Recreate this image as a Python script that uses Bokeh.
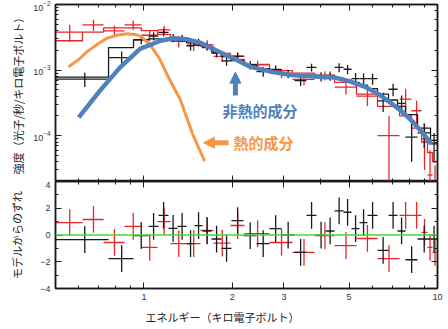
from bokeh.plotting import figure
from bokeh.layouts import column
from bokeh.models import (Range1d, FixedTicker, LogAxis, LinearAxis, Arrow, NormalHead,
                          Label, SingleIntervalTicker, Span, LogTicker, ColumnDataSource, Title)
from bokeh.embed import file_html
from bokeh.resources import INLINE

# ---------------- data ----------------
black_edges = [0.50, 0.758, 0.922, 1.037, 1.121, 1.213, 1.302, 1.397, 1.487, 1.584, 1.699,
               1.838, 1.987, 2.184, 2.419, 2.679, 2.942, 3.258, 3.579, 3.871, 4.156, 4.460,
               4.786, 5.095, 5.425, 5.776, 6.247, 6.810, 7.308, 7.782, 8.551, 9.468, 10.0]
black_model = [7.8e-4, 2.2e-3, 2.9e-3, 3.0e-3, 3.0e-3, 2.9e-3, 2.8e-3, 2.6e-3, 2.4e-3, 2.2e-3,
               1.9e-3, 1.6e-3, 1.4e-3, 1.2e-3, 1.05e-3, 9.5e-4, 8.8e-4, 8.5e-4, 8.3e-4, 8.0e-4,
               7.8e-4, 7.5e-4, 7.0e-4, 6.5e-4, 5.9e-4, 5.2e-4, 4.3e-4, 3.5e-4, 2.8e-4, 2.1e-4,
               1.3e-4, 8.5e-5]
black_data = [7.3e-4, 1.55e-3, 2.88e-3, 3.3e-3, 3.75e-3, 3.1e-3, 3.05e-3, 2.35e-3, 2.65e-3, 2.3e-3,
              1.82e-3, 1.38e-3, 1.63e-3, 1.2e-3, 9.5e-4, 1.02e-3, 8.8e-4, 6.9e-4, 1.1e-3, 8.0e-4,
              8.2e-4, 1.1e-3, 1.03e-3, 7.4e-4, 7.4e-4, 7.4e-4, 3.4e-4, 5.1e-4, 3.1e-4, 9.5e-5,
              1.1e-4, 7.5e-5]
black_err = [1.8e-4, 3.7e-4, 4e-4, 4.7e-4, 5e-4, 4.4e-4, 4e-4, 3.8e-4, 3.6e-4, 3.2e-4,
             2.7e-4, 2.2e-4, 2.1e-4, 1.8e-4, 1.6e-4, 1.5e-4, 1.3e-4, 1.2e-4, 1.5e-4, 1.3e-4,
             1.3e-4, 1.7e-4, 1.65e-4, 1.6e-4, 1.5e-4, 1.4e-4, 1.1e-4, 1.1e-4, 1.0e-4, 5.5e-5,
             4.5e-5, 3.5e-5]
black_resid = [-0.35, -1.76, -0.05, 0.64, 1.46, 0.5, 0.64, -0.64, 0.7, 0.3,
               -0.3, -1.0, 1.08, -0.04, -0.64, 0.48, 0.0, -1.3, 1.46, 0.0,
               0.3, 1.8, 1.7, 0.48, 0.93, 1.46, -1.15, 1.46, 0.3, -1.85,
               -0.3, -0.3]

red_edges = [0.50, 0.618, 0.729, 0.859, 0.981, 1.113, 1.232, 1.397, 1.559, 1.726, 1.972, 2.201,
             2.679, 3.208, 3.812, 4.460, 5.298, 6.247, 7.424, 8.155, 8.822, 9.247, 9.616, 10.0]
red_model = [2.8e-3, 3.8e-3, 4.4e-3, 4.4e-3, 4.0e-3, 3.5e-3, 3.1e-3, 2.7e-3, 2.3e-3, 1.8e-3,
             1.45e-3, 1.2e-3, 9.8e-4, 9.0e-4, 8.4e-4, 6.5e-4, 4.3e-4, 2.8e-4, 2.0e-4, 1.3e-4,
             8e-5, 5.5e-5, 4e-5]
red_data = [3.8e-3, 4.9e-3, 3.95e-3, 4.9e-3, 3.4e-3, 4.1e-3, 2.75e-3, 2.4e-3, 2.45e-3, 1.62e-3,
            1.62e-3, 1.22e-3, 9.0e-4, 7.2e-4, 8.3e-4, 5.5e-4, 4.0e-4, 1.0e-4, 3.6e-4, 2.4e-4,
            9e-5, 2.5e-5, 1.5e-5]
red_err = [1.1e-3, 9.5e-4, 8e-4, 8e-4, 6.5e-4, 6e-4, 5.5e-4, 4.5e-4, 4e-4, 3e-4,
           2.4e-4, 1.7e-4, 1.4e-4, 1.35e-4, 1.3e-4, 1.25e-4, 1.2e-4, 1.0e-4, 1.6e-4, 1.0e-4,
           6e-5, 3.5e-5, 2e-5]
red_resid = [0.93, 1.16, -0.56, 0.64, -0.93, 1.0, -0.64, -0.64, 0.34, -0.6,
             0.71, 0.1, -0.56, -1.3, -0.04, -0.79, -0.26, -1.76, 1.46, 1.46,
             0.19, -0.93, -1.3]

nonthermal_E = [0.60, 0.71, 0.83, 0.97, 1.14, 1.26, 1.40, 1.56, 1.78, 2.02, 2.31, 2.76, 3.18,
                3.8, 4.46, 5.0, 5.64, 6.3, 6.97, 7.6, 8.16, 8.9, 9.54]
nonthermal_I = [1.9e-4, 4.9e-4, 1.1e-3, 2.1e-3, 2.8e-3, 3.05e-3, 2.95e-3, 2.6e-3, 1.95e-3,
                1.5e-3, 1.12e-3, 9.3e-4, 8.4e-4, 8.0e-4, 7.7e-4, 6.8e-4, 5.6e-4, 4.3e-4,
                3.1e-4, 2.3e-4, 1.7e-4, 1.1e-4, 7.5e-5]
thermal_E = [0.553, 0.60, 0.641, 0.70, 0.75, 0.81, 0.878, 0.93, 0.974, 1.053, 1.13, 1.20,
             1.333, 1.464, 1.61]
thermal_I = [1.12e-3, 1.45e-3, 1.91e-3, 2.55e-3, 3.07e-3, 3.4e-3, 3.58e-3, 3.5e-3, 3.3e-3,
             2.4e-3, 1.5e-3, 8.5e-4, 3.46e-4, 1.07e-4, 4.1e-5]

x_tick_values = [1, 2, 3, 5, 10]
x_minor_values = [0.5, 0.6, 0.7, 0.8, 0.9, 4, 6, 7, 8, 9]

BLACK = "#1a1a1a"
RED = "#e8262a"
BLUE = "#4f81bd"
ORANGE = "#f79646"
GREEN = "#3ddc3d"
CJK = "Noto Sans CJK JP"
TICKFONT = "Liberation Sans"

W = 448
x_range = Range1d(0.5, 10)
YMIN = 2e-5


def cross_source(edges, vals, errs, floor=None):
    x0, x1, xc, yv, ylo, yhi = [], [], [], [], [], []
    for i, v in enumerate(vals):
        lo, hi = edges[i], edges[i + 1]
        x0.append(lo); x1.append(hi); xc.append(0.5 * (lo + hi)); yv.append(v)
        a = v - errs[i]
        if floor is not None and a < floor:
            a = floor
        ylo.append(a); yhi.append(v + errs[i])
    return ColumnDataSource(dict(x0=x0, x1=x1, xc=xc, y=yv, ylo=ylo, yhi=yhi))


def step_xy(edges, vals):
    return list(edges), list(vals) + [vals[-1]]


def style_axis(ax, labels=True):
    ax.axis_line_color = BLACK
    ax.axis_line_width = 1.5
    ax.major_tick_in = 6
    ax.major_tick_out = 0
    ax.minor_tick_in = 3
    ax.minor_tick_out = 0
    ax.major_tick_line_color = BLACK
    ax.minor_tick_line_color = BLACK
    ax.major_label_text_font = TICKFONT
    if labels:
        ax.major_label_text_color = "#333333"
        ax.major_label_text_font_size = "9px"
    else:
        ax.major_label_text_font_size = "1px"
        ax.major_label_text_alpha = 0
        ax.major_label_standoff = 0


# ---------------- top panel ----------------
p1 = figure(width=W, height=181, x_axis_type="log", y_axis_type="log",
            x_range=x_range, y_range=Range1d(YMIN, 1e-2),
            output_backend="svg", toolbar_location=None,
            min_border_left=55, min_border_right=11, min_border_top=4, min_border_bottom=0)
p1.grid.visible = False
p1.outline_line_color = BLACK
p1.outline_line_width = 1.5
p1.xaxis.ticker = FixedTicker(ticks=x_tick_values, minor_ticks=x_minor_values)
style_axis(p1.xaxis[0], labels=False)
style_axis(p1.yaxis[0])
p1.yaxis.axis_label = "強度（光子/秒/キロ電子ボルト）"
p1.yaxis.axis_label_text_font = CJK
p1.yaxis.axis_label_text_font_size = "11px"
p1.yaxis.axis_label_text_font_style = "normal"
p1.yaxis.axis_label_text_color = "#222222"
p1.yaxis.axis_label_standoff = 4
top_ax = LogAxis(ticker=FixedTicker(ticks=x_tick_values, minor_ticks=x_minor_values))
style_axis(top_ax, labels=False)
p1.add_layout(top_ax, "above")
right_ax = LogAxis(ticker=LogTicker())
style_axis(right_ax, labels=False)
p1.add_layout(right_ax, "right")

for edges, model, data, err, col in [(red_edges, red_model, red_data, red_err, RED),
                                     (black_edges, black_model, black_data, black_err, BLACK)]:
    sx, sy = step_xy(edges, model)
    p1.step(sx, sy, mode="after", line_color=col, line_width=1.3)
    src = cross_source(edges, data, err, floor=YMIN * 0.5)
    p1.segment("x0", "y", "x1", "y", source=src, line_color=col, line_width=1.3)
    p1.segment("xc", "ylo", "xc", "yhi", source=src, line_color=col, line_width=1.3)

p1.line(thermal_E, thermal_I, line_color=ORANGE, line_width=3)
p1.line(nonthermal_E, nonthermal_I, line_color=BLUE, line_width=4.5)

p1.add_layout(Arrow(end=NormalHead(size=11, fill_color=BLUE, line_color=BLUE),
                    x_start=2.05, y_start=4.1e-4, x_end=2.05, y_end=9.3e-4,
                    line_color=BLUE, line_width=5))
p1.add_layout(Label(x=1.854, y=2.43e-4, text="非熱的成分", text_font=CJK,
                    text_font_size="15px", text_font_style="bold", text_color=BLUE,
                    text_baseline="middle", text_align="left"))
p1.add_layout(Arrow(end=NormalHead(size=11, fill_color=ORANGE, line_color=ORANGE),
                    x_start=1.942, y_start=7.8e-5, x_end=1.596, y_end=7.8e-5,
                    line_color=ORANGE, line_width=5))
p1.add_layout(Label(x=2.02, y=7.8e-5, text="熱的成分", text_font=CJK,
                    text_font_size="15px", text_font_style="bold", text_color=ORANGE,
                    text_baseline="middle", text_align="left"))

# ---------------- residual panel ----------------
p2 = figure(width=W, height=148, x_axis_type="log",
            x_range=x_range, y_range=Range1d(-4, 4),
            output_backend="svg", toolbar_location=None,
            min_border_left=55, min_border_right=11, min_border_top=0, min_border_bottom=41)
p2.grid.visible = False
p2.outline_line_color = BLACK
p2.outline_line_width = 1.5
p2.xaxis.ticker = FixedTicker(ticks=x_tick_values, minor_ticks=x_minor_values)
style_axis(p2.xaxis[0])
p2.xaxis.major_label_standoff = 5
p2.yaxis.ticker = SingleIntervalTicker(interval=2, num_minor_ticks=2)
style_axis(p2.yaxis[0])
p2.yaxis.axis_label = "モデルからのずれ"
p2.yaxis.axis_label_text_font = CJK
p2.yaxis.axis_label_text_font_size = "11px"
p2.yaxis.axis_label_text_font_style = "normal"
p2.yaxis.axis_label_text_color = "#222222"
p2.yaxis.axis_label_standoff = 12
top2 = LogAxis(ticker=FixedTicker(ticks=x_tick_values, minor_ticks=x_minor_values))
style_axis(top2, labels=False)
p2.add_layout(top2, "above")
right2 = LinearAxis(ticker=SingleIntervalTicker(interval=2, num_minor_ticks=2))
style_axis(right2, labels=False)
p2.add_layout(right2, "right")
p2.add_layout(Title(text="エネルギー（キロ電子ボルト）", align="left", offset=90,
                    text_font=CJK, text_font_size="11px", text_font_style="normal",
                    text_color="#222222", standoff=8), "below")

p2.add_layout(Span(location=0, dimension="width", line_color=GREEN, line_width=1.6))
for edges, res, col in [(red_edges, red_resid, RED), (black_edges, black_resid, BLACK)]:
    src = cross_source(edges, res, [1.0] * len(res))
    p2.segment("x0", "y", "x1", "y", source=src, line_color=col, line_width=1.3)
    p2.segment("xc", "ylo", "xc", "yhi", source=src, line_color=col, line_width=1.3)

layout = column(p1, p2, spacing=0)
open("out.html", "w").write(file_html(layout, INLINE))
